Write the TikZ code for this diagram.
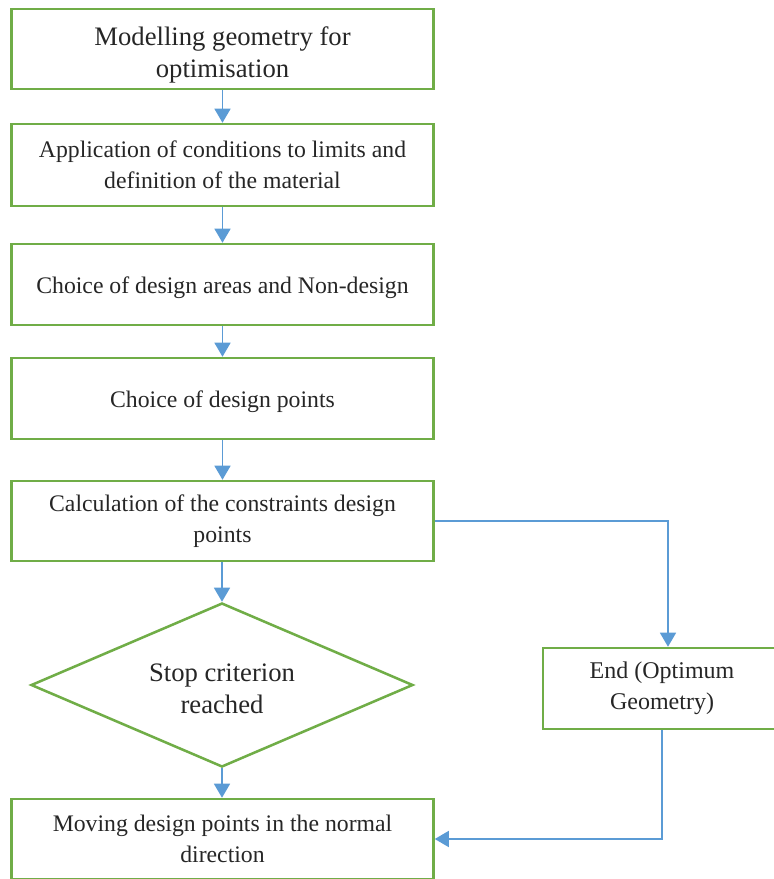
\documentclass[tikz,border=0pt]{standalone}
\usepackage{fontspec}
\setmainfont{Liberation Serif}
\usetikzlibrary{shapes.geometric,arrows.meta,calc}
\definecolor{boxgreen}{HTML}{70AD47}
\definecolor{arrblue}{HTML}{5B9BD5}
\definecolor{txt}{HTML}{262626}
\tikzset{
  stepbox/.style={draw=boxgreen, line width=1.9pt, rectangle, align=center, text=txt,
    font=\fontsize{17.8}{23.3}\selectfont, inner sep=0pt, minimum width=316.5pt},
  lowtext/.style={execute at begin node={\rule{0pt}{16.7pt}}},
  decbox/.style={draw=boxgreen, line width=1.9pt, diamond, inner sep=0pt,
    minimum width=286.5pt, minimum height=123pt},
  freetext/.style={text=txt, align=center, font=\fontsize{20}{24}\selectfont, inner sep=0pt},
  conn/.style={draw=arrblue, line width=1.1pt, -{Triangle[width=12pt,length=10.5pt]}}
}
\begin{document}
\begin{tikzpicture}[x=0.75pt,y=-0.75pt]
\useasboundingbox (0,0) rectangle (774,879);
\node[stepbox, minimum height=60pt] (b1) at (222.5,49) {};
\node[freetext] (t1) at (222.5,55) {Modelling geometry for\\optimisation};
\node[stepbox, minimum height=61.5pt] (b2) at (222.5,165) {Application of conditions to limits and\\definition of the material};
\node[stepbox, lowtext, minimum height=60.75pt] (b3) at (222.5,284.5) {Choice of design areas and Non-design};
\node[stepbox, lowtext, minimum height=60.75pt] (b4) at (222.5,398.5) {Choice of design points};
\node[stepbox, minimum height=60pt] (b5) at (222.5,521) {Calculation of the constraints design\\points};
\node[decbox] (d) at (222,685) {};
\node[freetext] (dt) at (222,689) {Stop criterion\\reached};
\node[stepbox, minimum height=60pt] (b6) at (222.5,839) {Moving design points in the normal\\direction};
\node[stepbox, minimum width=178.5pt, minimum height=60.75pt, font=\fontsize{18}{23.3}\selectfont] (e) at (662,688.5) {End (Optimum\\Geometry)};
\draw[conn] (b1) -- (b2);
\draw[conn] (b2) -- (b3);
\draw[conn] (b3) -- (b4);
\draw[conn] (b4) -- (b5);
\draw[conn] (b5.south -| d.north) -- (d.north);
\draw[conn] (d.south) -- (b6.north -| d.south);
\draw[conn] (b5.east) -| ($(e.north)+(6,0)$);
\draw[conn] (e.south) |- (b6.east);
\end{tikzpicture}
\end{document}
